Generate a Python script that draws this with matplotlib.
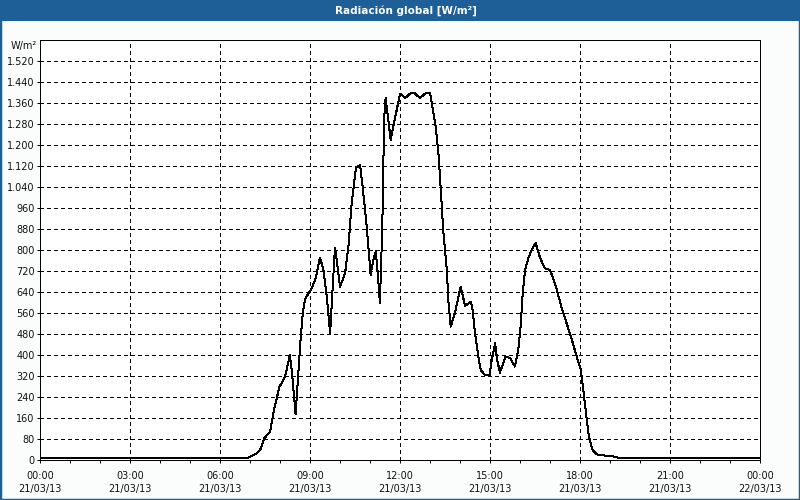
import matplotlib
matplotlib.use('Agg')
import matplotlib.pyplot as plt
from matplotlib.patches import Rectangle
from matplotlib.ticker import FuncFormatter, MultipleLocator

# Radiación global, 21/03/13 (horas desde 00:00, W/m²)
hours = [0.0, 6.92, 7.0, 7.22, 7.36, 7.48, 7.67, 7.8, 7.98, 8.17, 8.33, 8.4, 8.52, 8.61,
         8.68, 8.76, 8.83, 8.94, 9.06, 9.19, 9.33, 9.44, 9.56, 9.67, 9.72, 9.78, 9.83,
         9.89, 10.0, 10.17, 10.28, 10.39, 10.53, 10.67, 10.74, 10.87, 11.0, 11.02, 11.11,
         11.19, 11.26, 11.33, 11.41, 11.47, 11.52, 11.69, 12.0, 12.17, 12.36, 12.48, 12.67,
         12.83, 13.0, 13.06, 13.19, 13.28, 13.36, 13.44, 13.56, 13.61, 13.69, 13.83, 14.02,
         14.17, 14.36, 14.42, 14.5, 14.61, 14.69, 14.83, 14.98, 15.06, 15.17, 15.24, 15.33,
         15.52, 15.67, 15.83, 15.94, 16.02, 16.09, 16.17, 16.28, 16.39, 16.52, 16.67, 16.83,
         17.0, 17.2, 17.39, 17.7, 17.94, 18.02, 18.11, 18.2, 18.28, 18.36, 18.42, 18.56,
         18.72, 19.06, 19.28, 24.0]
radiacion = [9, 9, 14, 26, 44, 84, 109, 192, 279, 319, 400, 332, 175, 332,
             450, 560, 611, 634, 655, 693, 770, 731, 623, 484, 585, 706, 808,
             763, 661, 712, 814, 979, 1112, 1125, 1055, 916, 738, 706, 763,
             795, 712, 598, 890, 1297, 1379, 1220, 1396, 1379, 1398, 1398, 1379,
             1396, 1398, 1360, 1271, 1170, 1030, 877, 725, 611, 509, 560, 661,
             588, 604, 573, 484, 395, 344, 325, 325, 382, 446, 382, 334,
             395, 389, 357, 420, 509, 636, 725, 770, 801, 827, 770, 731,
             725, 661, 579, 470, 375, 350, 268, 179, 103, 62, 39, 23,
             19, 16, 10, 8]

xticks = [0, 3, 6, 9, 12, 15, 18, 21, 24]
xlabels = ['00:00\n21/03/13', '03:00\n21/03/13', '06:00\n21/03/13', '09:00\n21/03/13',
           '12:00\n21/03/13', '15:00\n21/03/13', '18:00\n21/03/13', '21:00\n21/03/13',
           '00:00\n22/03/13']

blue = '#1d5f96'
px = 0.72  # un pixel en puntos a 100 dpi
plt.rcParams['font.family'] = ['DejaVu Sans']

fig = plt.figure(figsize=(8, 5), dpi=100, facecolor='#fbfdfd')

# barra de título y marco azul
fig.patches.append(Rectangle((0, 1 - 21 / 500), 1, 21 / 500, transform=fig.transFigure,
                             facecolor=blue, edgecolor='none', zorder=0))
fig.patches.append(Rectangle((0, 0), 1, 1, transform=fig.transFigure, facecolor='none',
                             edgecolor=blue, linewidth=2.5, zorder=0))
fig.text(0.507, 1 - 10.5 / 500, 'Radiación global [W/m²]', color='white', fontsize=7.5,
         fontweight='bold', ha='center', va='center')

ax = fig.add_axes([40 / 800, 1 - 460.3 / 500, 720 / 800, 420.3 / 500])
ax.set_facecolor('white')
ax.plot(hours, radiacion, color='black', linewidth=px, antialiased=False)

ax.set_xlim(0, 24)
ax.set_ylim(0, 1600)
ax.set_xticks(xticks)
ax.set_xticklabels(xlabels, linespacing=1.45)
ax.xaxis.set_minor_locator(MultipleLocator(1))
ax.set_yticks(range(0, 1600, 80))
ax.yaxis.set_major_formatter(FuncFormatter(lambda v, p: f'{v:,.0f}'.replace(',', '.')))

ax.grid(True, which='major', color='black', linestyle=(0, (3, 3)), linewidth=px,
        antialiased=False)
ax.tick_params(axis='both', which='both', direction='out', color='black', width=px,
               labelsize=7, labelcolor='#101010')
ax.tick_params(axis='x', which='major', length=2.5, pad=5)
ax.tick_params(axis='x', which='minor', length=2.5)
ax.tick_params(axis='y', length=2.5, pad=1.5)
for s in ax.spines.values():
    s.set_linewidth(px)
    s.set_color('black')

ax.text(-0.004, 0.997, 'W/m²', transform=ax.transAxes, ha='right', va='top', fontsize=7,
        color='#101010')

fig.savefig('out.png', dpi=100, facecolor=fig.get_facecolor())
